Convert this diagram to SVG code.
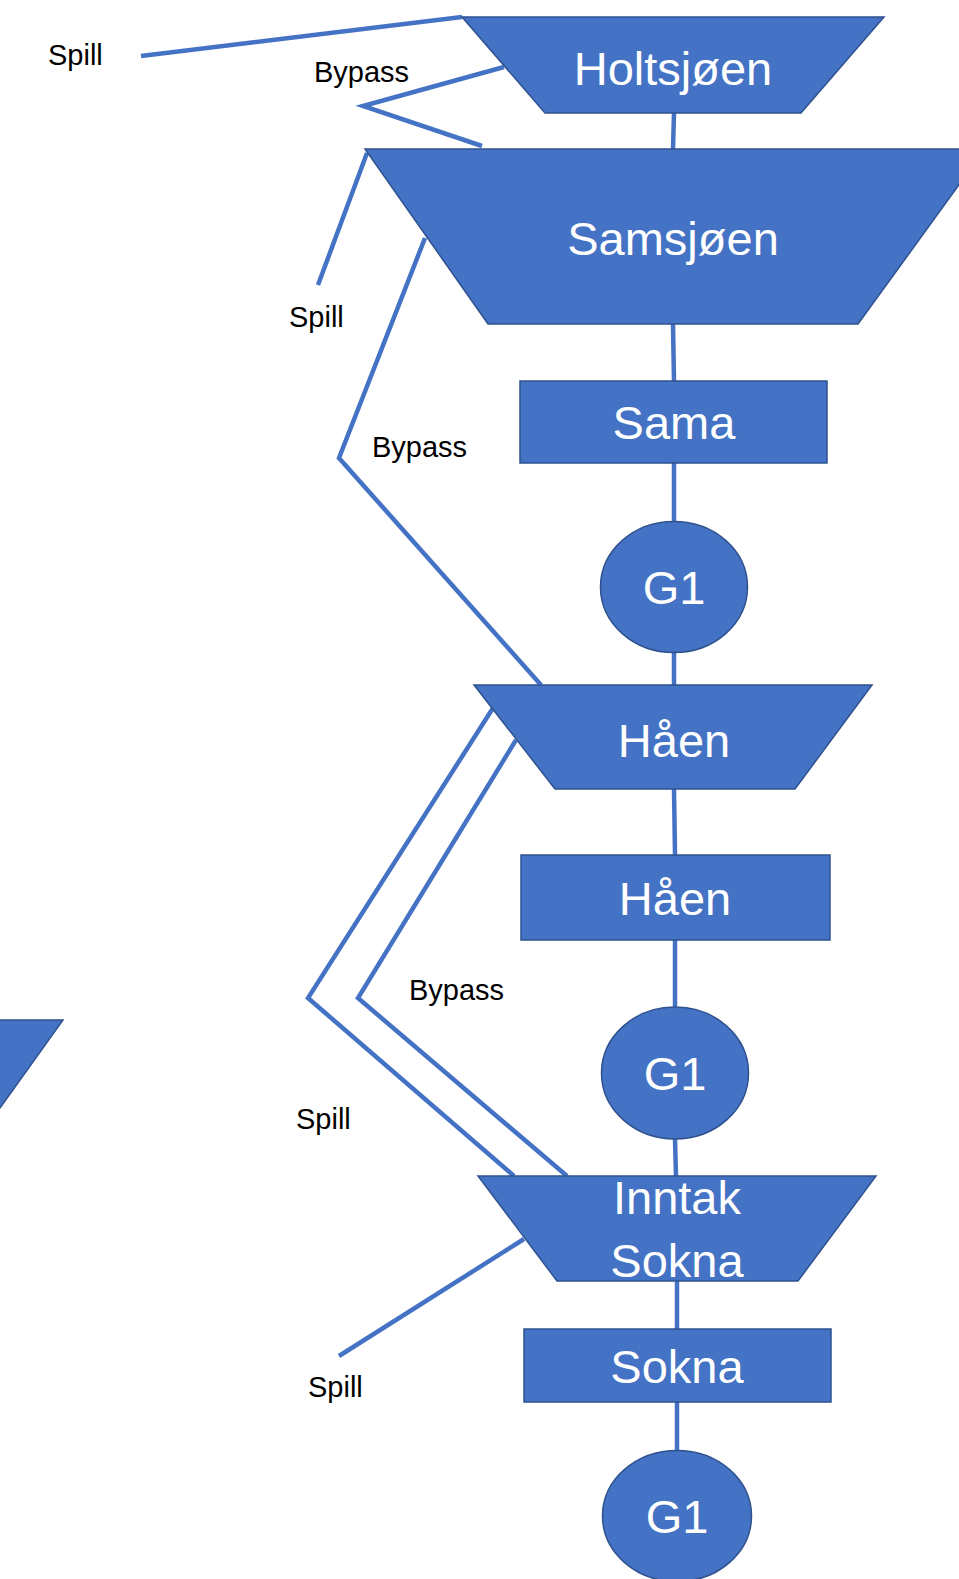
<svg xmlns="http://www.w3.org/2000/svg" width="959" height="1579" viewBox="0 0 959 1579">
  <style>
    .node { fill: #4472C4; stroke: #2F528F; stroke-width: 1.5; }
    .wire { fill: none; stroke: #4472C4; stroke-width: 4.5; stroke-linejoin: miter; }
    .name { font-family: "Liberation Sans", Arial, sans-serif; font-size: 47px; fill: #ffffff; text-anchor: middle; }
    .tag { font-family: "Liberation Sans", Arial, sans-serif; font-size: 29px; fill: #000000; }
  </style>
  <rect width="959" height="1579" fill="#ffffff"/>

  <!-- flow lines: main chain plus spill and bypass routes -->
  <g id="connectors">
    <line class="wire" x1="674" y1="113" x2="673" y2="149"/>
    <line class="wire" x1="673" y1="324" x2="674" y2="381"/>
    <line class="wire" x1="674" y1="463" x2="674" y2="522"/>
    <line class="wire" x1="674" y1="652" x2="674" y2="685"/>
    <line class="wire" x1="674" y1="789" x2="675" y2="855"/>
    <line class="wire" x1="675" y1="940" x2="675" y2="1007"/>
    <line class="wire" x1="675" y1="1139" x2="676" y2="1176"/>
    <line class="wire" x1="677" y1="1281" x2="677" y2="1329"/>
    <line class="wire" x1="677" y1="1402" x2="677" y2="1451"/>

    <!-- Holtsjøen spill and bypass -->
    <polyline class="wire" points="141,56 462,17"/>
    <polyline class="wire" points="504,67 363,106 482,146"/>
    <!-- Samsjøen spill and bypass -->
    <polyline class="wire" points="318,285 367,153"/>
    <polyline class="wire" points="425,238 339,458 541,685"/>
    <!-- Håen spill and bypass -->
    <polyline class="wire" points="493,708 308,998 514,1176"/>
    <polyline class="wire" points="516,740 358,998 567,1176"/>
    <!-- Inntak Sokna spill -->
    <polyline class="wire" points="524,1239 339,1356"/>
  </g>

  <g id="labels">
    <text class="tag" x="48" y="65">Spill</text>
    <text class="tag" x="314" y="82">Bypass</text>
    <text class="tag" x="289" y="327">Spill</text>
    <text class="tag" x="372" y="457">Bypass</text>
    <text class="tag" x="409" y="1000">Bypass</text>
    <text class="tag" x="296" y="1129">Spill</text>
    <text class="tag" x="308" y="1397">Spill</text>
  </g>

  <g id="holtsjoen">
    <polygon class="node" points="462,17 884,17 801,113 545,113"/>
    <text class="name" x="673" y="85">Holtsjøen</text>
  </g>

  <g id="samsjoen">
    <polygon class="node" points="365,149 985,149 858,324 488,324"/>
    <text class="name" x="673" y="255">Samsjøen</text>
  </g>

  <g id="sama">
    <rect class="node" x="520" y="381" width="307" height="82"/>
    <text class="name" x="674" y="439">Sama</text>
  </g>

  <g id="sama-g1">
    <ellipse class="node" cx="674" cy="587" rx="73.5" ry="65.5"/>
    <text class="name" x="674" y="604">G1</text>
  </g>

  <g id="haen-reservoir">
    <polygon class="node" points="474,685 872,685 795,789 555,789"/>
    <text class="name" x="674" y="757">Håen</text>
  </g>

  <g id="haen-plant">
    <rect class="node" x="521" y="855" width="309" height="85"/>
    <text class="name" x="675" y="915">Håen</text>
  </g>

  <g id="haen-g1">
    <ellipse class="node" cx="675" cy="1073" rx="73.5" ry="66"/>
    <text class="name" x="675" y="1090">G1</text>
  </g>

  <g id="inntak-sokna">
    <polygon class="node" points="478,1176 876,1176 798,1281 557,1281"/>
    <text class="name" x="677" y="1214">Inntak</text>
    <text class="name" x="677" y="1277">Sokna</text>
  </g>

  <g id="sokna-plant">
    <rect class="node" x="524" y="1329" width="307" height="73"/>
    <text class="name" x="677" y="1383">Sokna</text>
  </g>

  <g id="sokna-g1">
    <ellipse class="node" cx="677" cy="1516" rx="74.5" ry="65.5"/>
    <text class="name" x="677" y="1533">G1</text>
  </g>

  <g id="edge-shape">
    <polygon class="node" points="-2,1020 63,1020 0,1108 -2,1108"/>
  </g>
</svg>
